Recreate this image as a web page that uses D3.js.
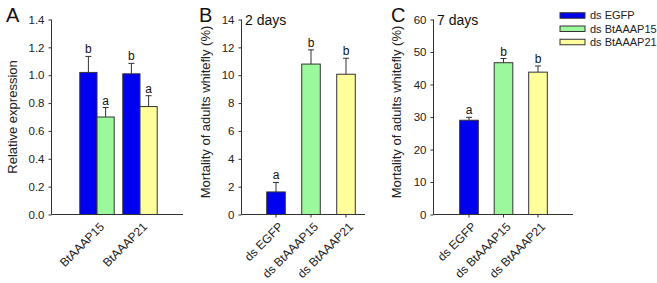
<!DOCTYPE html>
<html><head><meta charset="utf-8">
<script src="https://cdn.jsdelivr.net/npm/d3@7"></script>
<style>
html,body{margin:0;padding:0;background:#fff;}
svg{display:block;font-family:"Liberation Sans",Arial,sans-serif;}
</style></head>
<body>
<svg id="chart" width="657" height="283"></svg>
<script>
// ---- Data ----
const genes = ["BtAAAP15", "BtAAAP21"];
const relExpControl = [1.02, 1.01];
const relExpControlSE = [0.115, 0.075];
const relExpTreated = [0.70, 0.775];
const relExpTreatedSE = [0.068, 0.078];
const relExpControlLetters = ["b", "b"];
const relExpTreatedLetters = ["a", "a"];
const relExpTicks = [0, 0.2, 0.4, 0.6, 0.8, 1.0, 1.2, 1.4];

const treatments = ["ds EGFP", "ds BtAAAP15", "ds BtAAAP21"];
const mortality2d = [1.62, 10.8, 10.07];
const mortality2dSE = [0.68, 1.02, 1.15];
const mortality2dLetters = ["a", "b", "b"];
const mortality2dTicks = [0, 2, 4, 6, 8, 10, 12, 14];

const mortality7d = [29.0, 46.7, 43.8];
const mortality7dSE = [0.9, 1.3, 1.9];
const mortality7dLetters = ["a", "b", "b"];
const mortality7dTicks = [0, 10, 20, 30, 40, 50, 60];

const legendLabels = ["ds EGFP", "ds BtAAAP15", "ds BtAAAP21"];
const colors = ["#0000f0", "#9cf89c", "#ffff9c"];

// ---- Drawing ----
const svg = d3.select("#chart");
const y0 = 214.5, y1 = 19.5;
const stroke = "#333";

function yAxis(g, y, ticks, fmt) {
  const ax = d3.axisLeft(y).tickValues(ticks).tickSize(3).tickPadding(4).tickFormat(fmt);
  g.call(ax);
  g.select(".domain").attr("stroke", stroke).attr("d", `M0,${y0}V${y1}`);
  g.selectAll(".tick line").attr("stroke", stroke);
  g.selectAll(".tick text").attr("fill", "#222").style("font-size", "11.5px")
    .style("font-family", '"Liberation Sans",Arial,sans-serif');
}

function panel(opt) {
  const g = svg.append("g");
  const y = d3.scaleLinear().domain(opt.domain).range([y0, y1]);
  g.append("line").attr("x1", opt.axisX).attr("x2", opt.axisEnd)
    .attr("y1", y0).attr("y2", y0).attr("stroke", stroke).attr("stroke-width", 1);
  const ga = g.append("g").attr("transform", `translate(${opt.axisX},0)`);
  yAxis(ga, y, opt.ticks, opt.fmt);
  g.append("text").attr("x", opt.letterX).attr("y", 22).text(opt.letter)
    .style("font-size", "20px").attr("fill", "#111");
  g.append("text").attr("transform", `translate(${opt.labelX},${opt.labelY}) rotate(-90)`)
    .attr("text-anchor", "middle").attr("dy", "0.35em").style("font-size", "13px")
    .attr("fill", "#222").text(opt.ylabel);
  return {g, y};
}

function drawBar(g, y, x0, w, v, se, color, letter) {
  g.append("rect").attr("x", x0).attr("y", y(v)).attr("width", w).attr("height", y(0) - y(v))
    .attr("fill", color).attr("stroke", stroke).attr("stroke-width", 1);
  const cx = x0 + w / 2;
  g.append("line").attr("x1", cx).attr("x2", cx).attr("y1", y(v)).attr("y2", y(v + se))
    .attr("stroke", stroke).attr("stroke-width", 1);
  g.append("line").attr("x1", cx - 3).attr("x2", cx + 3).attr("y1", y(v + se)).attr("y2", y(v + se))
    .attr("stroke", stroke).attr("stroke-width", 1);
  g.append("text").attr("x", cx).attr("y", y(v + se) - 3).attr("text-anchor", "middle")
    .style("font-size", "12px").attr("fill", "#111").text(letter);
}

function catLabels(g, x, cats, ticks) {
  if (ticks) {
    cats.forEach(c => {
      const cx = x(c) + x.bandwidth() / 2;
      g.append("line").attr("x1", cx).attr("x2", cx).attr("y1", y0).attr("y2", y0 + 3).attr("stroke", stroke);
    });
  }
  cats.forEach(c => {
    const cx = x(c) + x.bandwidth() / 2;
    g.append("text").attr("transform", `translate(${cx + 2},${y0 + 7}) rotate(-45)`)
      .attr("text-anchor", "end").attr("dy", "0.7em").style("font-size", "12px")
      .attr("fill", "#222").text(c);
  });
}

// Panel A
{
  const {g, y} = panel({domain: [0, 1.4], ticks: relExpTicks, fmt: d3.format(".1f"),
    axisX: 51.5, axisEnd: 183, letter: "A", letterX: 6, labelX: 12.5, labelY: 117,
    ylabel: "Relative expression"});
  const x = d3.scaleBand().domain(genes).range([75.5, 161.5]).paddingInner(0.2).paddingOuter(0.1);
  const sub = d3.scaleBand().domain(["c", "t"]).range([0, x.bandwidth()]);
  genes.forEach((gname, i) => {
    drawBar(g, y, x(gname) + sub("c"), sub.bandwidth(), relExpControl[i], relExpControlSE[i], colors[0], relExpControlLetters[i]);
    drawBar(g, y, x(gname) + sub("t"), sub.bandwidth(), relExpTreated[i], relExpTreatedSE[i], colors[i + 1], relExpTreatedLetters[i]);
  });
  catLabels(g, x, genes, false);
}

// Panel B
{
  const {g, y} = panel({domain: [0, 14], ticks: mortality2dTicks, fmt: d3.format("d"),
    axisX: 241.5, axisEnd: 365, letter: "B", letterX: 199, labelX: 205, labelY: 112,
    ylabel: "Mortality of adults whitefly (%)"});
  const x = d3.scaleBand().domain(treatments).range([258.5, 363.5]).paddingInner(0.47).paddingOuter(0.235);
  treatments.forEach((t, i) => drawBar(g, y, x(t), x.bandwidth(), mortality2d[i], mortality2dSE[i], colors[i], mortality2dLetters[i]));
  catLabels(g, x, treatments, true);
  g.append("text").attr("x", 245).attr("y", 25).style("font-size", "14px").attr("fill", "#111").text("2 days");
}

// Panel C
{
  const {g, y} = panel({domain: [0, 60], ticks: mortality7dTicks, fmt: d3.format("d"),
    axisX: 433.5, axisEnd: 573, letter: "C", letterX: 391, labelX: 396, labelY: 112,
    ylabel: "Mortality of adults whitefly (%)"});
  const x = d3.scaleBand().domain(treatments).range([451.75, 555.25]).paddingInner(0.46).paddingOuter(0.23);
  treatments.forEach((t, i) => drawBar(g, y, x(t), x.bandwidth(), mortality7d[i], mortality7dSE[i], colors[i], mortality7dLetters[i]));
  catLabels(g, x, treatments, true);
  g.append("text").attr("x", 437).attr("y", 25).style("font-size", "14px").attr("fill", "#111").text("7 days");
}

// Legend
{
  const lg = svg.append("g");
  const ly = d3.scalePoint().domain(legendLabels).range([15.5, 42]);
  legendLabels.forEach((l, i) => {
    lg.append("rect").attr("x", 560).attr("y", ly(l) - 2.75).attr("width", 25).attr("height", 5.5)
      .attr("fill", colors[i]).attr("stroke", stroke).attr("stroke-width", 1);
    lg.append("text").attr("x", 590).attr("y", ly(l)).attr("dy", "0.35em")
      .style("font-size", "11px").attr("fill", "#222").text(l);
  });
}
</script>
</body></html>
